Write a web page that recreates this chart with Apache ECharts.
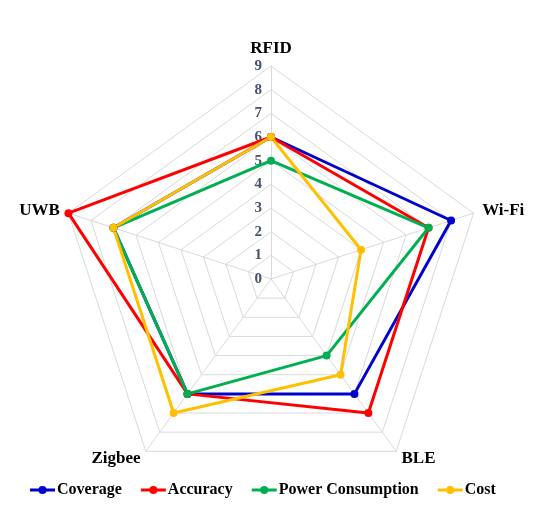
<!DOCTYPE html>
<html>
<head>
<meta charset="utf-8">
<script src="https://cdn.jsdelivr.net/npm/echarts@6/dist/echarts.min.js"></script>
<style>
  html, body { margin: 0; padding: 0; background: #fff; }
  #chart { width: 554px; height: 514px; }
</style>
</head>
<body>
<div id="chart"></div>
<script>
// 数据
const categories = ["RFID", "Wi-Fi", "BLE", "Zigbee", "UWB"];
const coverage = [6, 8, 6, 6, 7];
const accuracy = [6, 7, 7, 6, 9];
const power = [5, 7, 4, 6, 7];
const cost = [6, 4, 5, 7, 7];
const tickLabels = ["0", "1", "2", "3", "4", "5", "6", "7", "8", "9"];

const seriesNames = ["Coverage", "Accuracy", "Power Consumption", "Cost"];
const colors = ["#0000CC", "#FF0000", "#00B050", "#FFC000"];
const FONT = "Liberation Serif, Times New Roman, serif";

// 图例图标：线段 + 圆点
const LEGEND_ICON = "path://M0,3.6 H8.8 V6.4 H0 Z M16.2,3.6 H25 V6.4 H16.2 Z M8.5,5 A4,4 0 1,1 16.5,5 A4,4 0 1,1 8.5,5 Z";

// ECharts 雷达图按逆时针排列，这里调整顺序使其顺时针
const order = [0, 4, 3, 2, 1];
const pick = arr => order.map(i => arr[i]);

const chart = echarts.init(document.getElementById("chart"), null, { renderer: "canvas" });

const CENTER = [271, 279];
const RADIUS = 213;

chart.setOption({
  backgroundColor: "#fff",
  color: colors,
  legend: {
    data: seriesNames.map(n => ({ name: n, icon: LEGEND_ICON })),
    bottom: 11,
    left: 25,
    itemWidth: 25,
    itemHeight: 10,
    itemGap: 19,
    textStyle: { color: "#000", fontFamily: FONT, fontWeight: "bold", fontSize: 16, padding: [0, 0, 0, -3] }
  },
  radar: {
    center: CENTER,
    radius: RADIUS,
    startAngle: 90,
    shape: "polygon",
    splitNumber: 9,
    indicator: pick(categories).map(name => ({ name: name, min: 0, max: 9 })),
    axisName: { color: "#000", fontFamily: FONT, fontWeight: "bold", fontSize: 17 },
    nameGap: 9,
    axisLine: { lineStyle: { color: "#D9D9D9", width: 1 } },
    splitLine: { lineStyle: { color: "#D9D9D9", width: 1 } },
    splitArea: { show: false },
    axisLabel: { show: false }
  },
  polar: { center: CENTER, radius: RADIUS },
  angleAxis: { show: false, startAngle: 90, min: 0, max: 360 },
  radiusAxis: {
    min: 0, max: 9, interval: 1,
    axisLine: { show: false },
    axisTick: { show: false },
    splitLine: { show: false },
    axisLabel: {
      show: true,
      margin: 9,
      color: "#44546A",
      fontFamily: FONT,
      fontWeight: "bold",
      fontSize: 15,
      formatter: v => tickLabels[v]
    }
  },
  series: [{
    type: "radar",
    symbol: "circle",
    symbolSize: 8,
    lineStyle: { width: 3 },
    data: [coverage, accuracy, power, cost].map((arr, i) => ({
      name: seriesNames[i],
      value: pick(arr),
      itemStyle: { color: colors[i] },
      lineStyle: { color: colors[i], width: 3 }
    }))
  }]
});
</script>
</body>
</html>
